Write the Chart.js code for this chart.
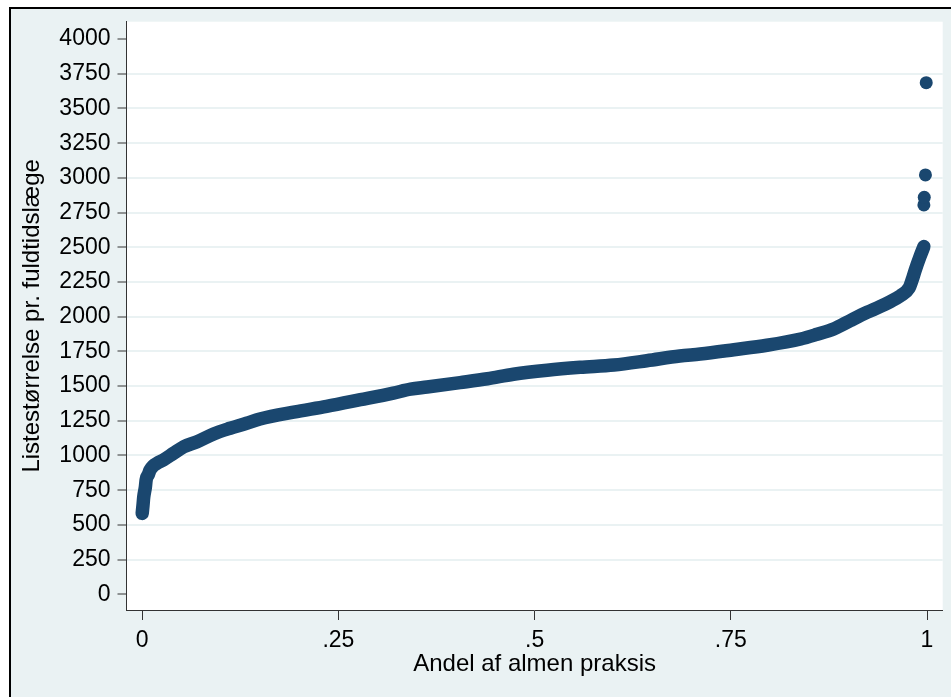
<!DOCTYPE html>
<html>
<head>
<meta charset="utf-8">
<script src="https://cdn.jsdelivr.net/npm/chart.js@4.4.0/dist/chart.umd.min.js"></script>
<style>
  html, body { margin: 0; padding: 0; background: #fff; }
  #wrap { position: relative; width: 951px; height: 697px; }
</style>
</head>
<body>
<div id="wrap"><canvas id="chart" width="951" height="697"></canvas></div>
<script>
// Quantile plot: list size per full-time GP
const shares = [0.000, 0.001, 0.002, 0.004, 0.005, 0.008, 0.010, 0.014, 0.019, 0.027,
  0.040, 0.053, 0.070, 0.091, 0.112, 0.133, 0.150, 0.193, 0.235, 0.278,
  0.320, 0.342, 0.363, 0.405, 0.440, 0.473, 0.516, 0.558, 0.601, 0.643,
  0.685, 0.711, 0.754, 0.796, 0.839, 0.860, 0.881, 0.902, 0.924, 0.940,
  0.953, 0.966, 0.977, 0.981, 0.985, 0.991, 0.996];
const listSizes = [583, 640, 703, 770, 823, 865, 895, 925, 944, 968,
  1016, 1063, 1099, 1155, 1196, 1232, 1263, 1313, 1354, 1402,
  1450, 1478, 1493, 1525, 1553, 1585, 1614, 1635, 1652, 1683,
  1717, 1731, 1762, 1794, 1839, 1873, 1911, 1971, 2032, 2072,
  2108, 2150, 2205, 2264, 2336, 2432, 2505];

// the few practices above the main band
const outlierShares = [0.996, 0.9965, 0.998, 0.999];
const outlierSizes = [2805, 2860, 3021, 3686];

const yTicks = [0, 250, 500, 750, 1000, 1250, 1500, 1750, 2000, 2250, 2500, 2750, 3000, 3250, 3500, 3750, 4000];
const xTicks = [0, 0.25, 0.5, 0.75, 1];
const xTickLabels = ['0', '.25', '.5', '.75', '1'];

const NAVY = '#1a476f';
const BG = '#eaf2f3';

const framePlugin = {
  id: 'frame',
  beforeDraw(chart) {
    const { ctx, chartArea: a } = chart;
    ctx.save();
    ctx.fillStyle = '#fff';
    ctx.fillRect(0, 0, chart.width, chart.height);
    ctx.fillStyle = BG;
    ctx.fillRect(10, 8, chart.width - 10, chart.height - 8);
    ctx.fillStyle = '#000';
    ctx.fillRect(9, 7, 2, chart.height - 7);
    ctx.fillRect(9, 7, chart.width - 9, 2);
    ctx.fillStyle = '#fff';
    ctx.fillRect(a.left, a.top, a.right - a.left, a.bottom - a.top);
    ctx.restore();
  }
};

new Chart(document.getElementById('chart'), {
  type: 'scatter',
  data: {
    datasets: [
      {
        data: shares.map((s, i) => ({ x: s, y: listSizes[i] })),
        showLine: true,
        borderColor: NAVY,
        borderWidth: 13.5,
        borderCapStyle: 'round',
        borderJoinStyle: 'round',
        cubicInterpolationMode: 'monotone',
        pointRadius: 0
      },
      {
        data: outlierShares.map((s, i) => ({ x: s, y: outlierSizes[i] })),
        backgroundColor: NAVY,
        borderWidth: 0,
        pointRadius: 6.5
      }
    ]
  },
  options: {
    responsive: false,
    animation: false,
    devicePixelRatio: 1,
    layout: { padding: { top: 21.7, right: 8.3, left: 0, bottom: 0 } },
    plugins: { legend: { display: false }, tooltip: { enabled: false } },
    scales: {
      x: {
        min: -0.02, max: 1.02,
        afterFit: s => { s.height = 87; },
        afterBuildTicks: s => { s.ticks = xTicks.map(v => ({ value: v })); },
        border: { display: true, color: '#333', width: 1 },
        grid: { drawOnChartArea: false, drawTicks: true, tickLength: 10, tickColor: '#333', tickWidth: 1 },
        ticks: {
          color: '#000', padding: 7, maxRotation: 0,
          font: { family: 'Liberation Sans, Arial, sans-serif', size: 23 },
          callback: v => xTickLabels[xTicks.indexOf(v)]
        },
        title: {
          display: true, text: 'Andel af almen praksis', color: '#000',
          font: { family: 'Liberation Sans, Arial, sans-serif', size: 24 },
          padding: { top: 0, bottom: 18 }
        }
      },
      y: {
        min: -113, max: 4125,
        afterFit: s => { s.width = 126.5; },
        afterBuildTicks: s => { s.ticks = yTicks.map(v => ({ value: v })); },
        border: { display: true, color: '#333', width: 1 },
        grid: {
          color: c => (c.tick && (c.tick.value === 0 || c.tick.value === 4000)) ? 'rgba(0,0,0,0)' : BG,
          lineWidth: 2,
          tickLength: 9, tickColor: '#333', tickWidth: 1
        },
        ticks: {
          color: '#000', padding: 7,
          font: { family: 'Liberation Sans, Arial, sans-serif', size: 23 },
          callback: v => String(v)
        },
        title: {
          display: true, text: 'Listestørrelse pr. fuldtidslæge', color: '#000',
          font: { family: 'Liberation Sans, Arial, sans-serif', size: 24 },
          padding: { top: 18, bottom: 0 }
        }
      }
    }
  },
  plugins: [framePlugin]
});
</script>
</body>
</html>
